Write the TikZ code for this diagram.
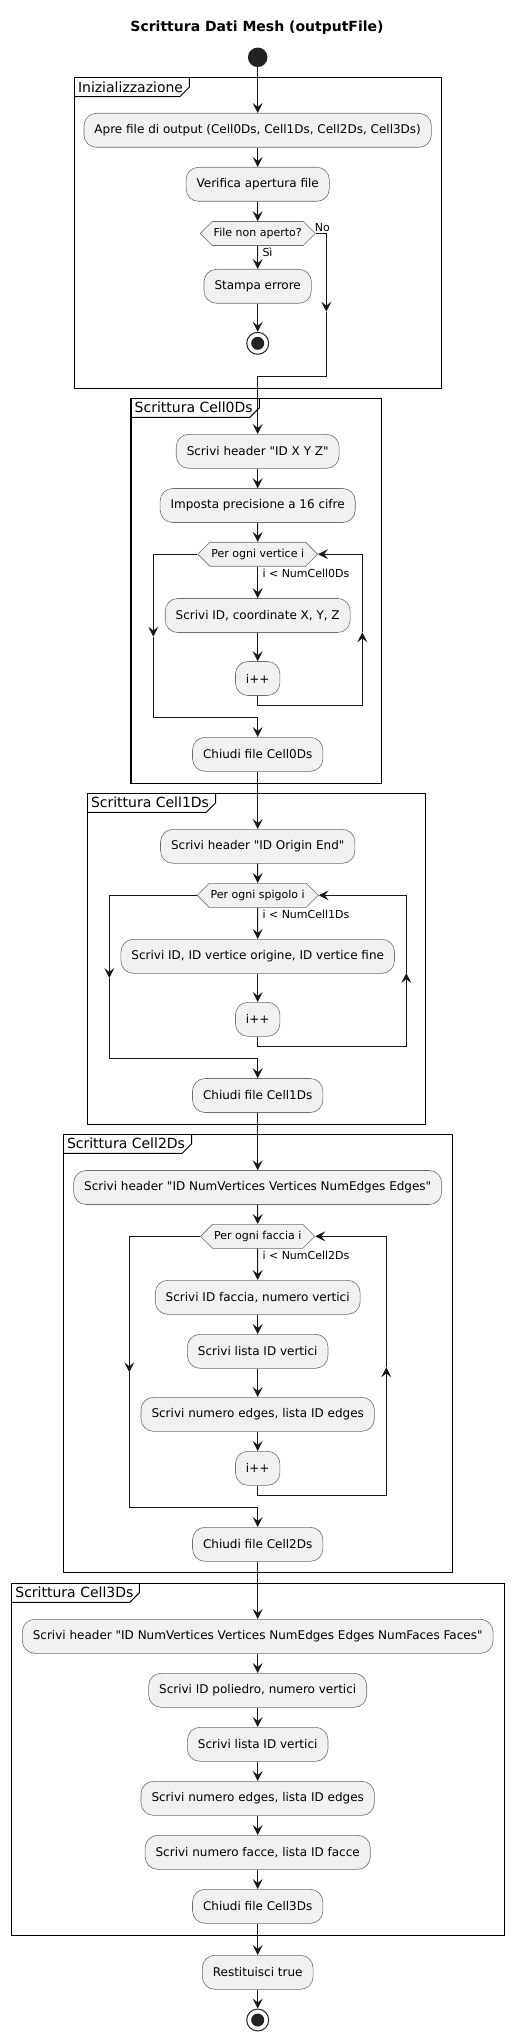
\documentclass[tikz,border=0pt]{standalone}
\usepackage{fontspec}
\setmainfont{DejaVu Sans}[Ligatures=TeXOff]
\usetikzlibrary{arrows.meta,shapes.symbols,calc}
\definecolor{boxfill}{HTML}{F1F1F1}
\definecolor{linec}{HTML}{181818}
\definecolor{dotc}{HTML}{222222}
\definecolor{borderc}{HTML}{6E6E6E}
\newcommand\umlframe[7]{%
  \draw[frame] (#1,#2) rectangle (#3,#4);
  \draw[line width=1pt] (#5,#2) -- (#5,#2+9.5) -- (#5-9.5,#2+19) -- (#1,#2+19);
  \node[anchor=west, inner sep=0pt, font=\fontsize{14}{16}\selectfont] (#7) at (#1+3.5,#2+9.4) {#6};
}
\begin{document}
\begin{tikzpicture}[x=1pt,y=-1pt,
  act/.style={draw=borderc, line width=0.6pt, fill=boxfill, rounded corners=12.5pt, minimum height=34pt, inner xsep=10.5pt, inner ysep=0pt, font=\fontsize{12}{14}\selectfont, text=black},
  dec/.style={signal, signal to=west and east, signal pointer angle=90, draw=borderc, line width=0.6pt, fill=boxfill, minimum height=24pt, inner xsep=1.5pt, inner ysep=0pt, font=\fontsize{11}{13}\selectfont},
  arr/.style={draw=linec, line width=1pt, -{Stealth[length=10pt,width=10pt,inset=4pt]}},
  ln/.style={draw=linec, line width=1pt},
  lbl/.style={font=\fontsize{11}{13}\selectfont, inner sep=0pt, anchor=west},
  frame/.style={draw=black, line width=1.5pt},
]
\useasboundingbox (0,0) rectangle (514,2041);

% title
\node[font=\fontsize{14}{16}\selectfont\bfseries] (title) at (257,28) {Scrittura Dati Mesh (outputFile)};

% frames
\umlframe{74.3}{77.7}{441.7}{388.3}{189.3}{Inizializzazione}{f1}
\umlframe{131}{398.3}{381.7}{783.3}{259.3}{Scrittura Cell0Ds}{f2}
\umlframe{87.3}{793.3}{425.7}{1124.3}{215.7}{Scrittura Cell1Ds}{f3}
\umlframe{63.3}{1134.3}{452.3}{1572.7}{191.7}{Scrittura Cell2Ds}{f4}
\umlframe{11.7}{1583.3}{504.3}{1935.3}{139.3}{Scrittura Cell3Ds}{f5}

% start
\node[circle, fill=dotc, minimum size=19.5pt, inner sep=0pt] (start) at (257.7,57.3) {};

% Inizializzazione
\node[act] (a1) at (257.7,130.3) {Apre file di output (Cell0Ds, Cell1Ds, Cell2Ds, Cell3Ds)};
\node[act] (a2) at (257.7,184.3) {Verifica apertura file};
\node[dec] (h1) at (257.7,233.5) {File non aperto?};
\node[act] (a3) at (257.7,286.3) {Stampa errore};
\node[circle, draw=dotc, line width=1pt, fill=white, minimum size=22pt, inner sep=0pt] (stop1) at (257.7,343.3) {};
\node[circle, fill=dotc, minimum size=13pt, inner sep=0pt] (stop1in) at (stop1) {};
\node[lbl] (lno) at (314.6,227.3) {No};
\node[lbl] (lsi) at (262.3,252.3) {Sì};
\coordinate (n1) at (326.3,233.5);
\coordinate (n2) at (326.3,311.7);
\coordinate (n3) at (326.3,376);

% Cell0Ds
\node[act] (b1) at (257.7,451.3) {Scrivi header "ID X Y Z"};
\node[act] (b2) at (257.7,505.5) {Imposta precisione a 16 cifre};
\node[dec] (h2) at (257.7,554.2) {Per ogni vertice i};
\node[lbl] (lc0) at (262.3,573.3) {i < NumCell0Ds};
\node[act] (b3) at (257.7,615.5) {Scrivi ID, coordinate X, Y, Z};
\node[act] (b4) at (257.7,678.5) {i++};
\node[act] (b5) at (257.7,754.3) {Chiudi file Cell0Ds};
\coordinate (r0a) at (257.7,705);
\coordinate (r0b) at (362.3,705);
\coordinate (r0c) at (362.3,632.3);
\coordinate (l0a) at (153.3,636.7);
\coordinate (l0b) at (153.3,717.3);

% Cell1Ds
\node[act] (c1) at (257.7,846.3) {Scrivi header "ID Origin End"};
\node[dec] (h3) at (257.7,895.3) {Per ogni spigolo i};
\node[lbl] (lc1) at (262.3,914) {i < NumCell1Ds};
\node[act] (c2) at (257.7,956.3) {Scrivi ID, ID vertice origine, ID vertice fine};
\node[act] (c3) at (257.7,1019.3) {i++};
\node[act] (c4) at (257.7,1095.5) {Chiudi file Cell1Ds};
\coordinate (r1a) at (257.7,1046.3);
\coordinate (r1b) at (406.3,1046.3);
\coordinate (r1c) at (406.3,973);
\coordinate (l1a) at (109.3,978);
\coordinate (l1b) at (109.3,1058.3);

% Cell2Ds
\node[act] (d1) at (257.7,1187.5) {Scrivi header "ID NumVertices Vertices NumEdges Edges"};
\node[dec] (h4) at (257.7,1236.3) {Per ogni faccia i};
\node[lbl] (lc2) at (262.3,1255) {i < NumCell2Ds};
\node[act] (d2) at (257.7,1297.3) {Scrivi ID faccia, numero vertici};
\node[act] (d3) at (257.7,1351.3) {Scrivi lista ID vertici};
\node[act] (d4) at (257.7,1414.3) {Scrivi numero edges, lista ID edges};
\node[act] (d5) at (257.7,1468.3) {i++};
\node[act] (d6) at (257.7,1544.3) {Chiudi file Cell2Ds};
\coordinate (r2a) at (257.7,1495);
\coordinate (r2b) at (386.3,1495);
\coordinate (r2c) at (386.3,1367.3);
\coordinate (l2a) at (129.3,1372.3);
\coordinate (l2b) at (129.3,1507.3);

% Cell3Ds
\node[act] (e1) at (257.7,1636.3) {Scrivi header "ID NumVertices Vertices NumEdges Edges NumFaces Faces"};
\node[act] (e2) at (257.7,1690.3) {Scrivi ID poliedro, numero vertici};
\node[act] (e3) at (257.7,1744.3) {Scrivi lista ID vertici};
\node[act] (e4) at (257.7,1798.3) {Scrivi numero edges, lista ID edges};
\node[act] (e5) at (257.7,1852.3) {Scrivi numero facce, lista ID facce};
\node[act] (e6) at (257.7,1906.3) {Chiudi file Cell3Ds};
\node[act] (rt) at (257.7,1972.3) {Restituisci true};
\node[circle, draw=dotc, line width=1pt, fill=white, minimum size=22pt, inner sep=0pt] (stop2) at (257.7,2020) {};
\node[circle, fill=dotc, minimum size=13pt, inner sep=0pt] (stop2in) at (stop2) {};

% connectors
\draw[arr] (start) -- (a1);
\draw[arr] (a1) -- (a2);
\draw[arr] (a2) -- (h1);
\draw[arr] (h1) -- (a3);
\draw[arr] (a3) -- (stop1);
\draw[arr] (h1.east) -- (n1) -- (n2);
\draw[arr] (n2) -- (n3) -| (b1);

\draw[arr] (b1) -- (b2);
\draw[arr] (b2) -- (h2);
\draw[arr] (h2) -- (b3);
\draw[arr] (b3) -- (b4);
\draw[arr] (b4) -- (r0a) -- (r0b) -- (r0c);
\draw[arr] (r0c) |- (h2.east);
\draw[arr] (h2.west) -| (l0a);
\draw[arr] (l0a) -- (l0b) -| (b5);
\draw[arr] (b5) -- (c1);

\draw[arr] (c1) -- (h3);
\draw[arr] (h3) -- (c2);
\draw[arr] (c2) -- (c3);
\draw[arr] (c3) -- (r1a) -- (r1b) -- (r1c);
\draw[arr] (r1c) |- (h3.east);
\draw[arr] (h3.west) -| (l1a);
\draw[arr] (l1a) -- (l1b) -| (c4);
\draw[arr] (c4) -- (d1);

\draw[arr] (d1) -- (h4);
\draw[arr] (h4) -- (d2);
\draw[arr] (d2) -- (d3);
\draw[arr] (d3) -- (d4);
\draw[arr] (d4) -- (d5);
\draw[arr] (d5) -- (r2a) -- (r2b) -- (r2c);
\draw[arr] (r2c) |- (h4.east);
\draw[arr] (h4.west) -| (l2a);
\draw[arr] (l2a) -- (l2b) -| (d6);
\draw[arr] (d6) -- (e1);

\draw[arr] (e1) -- (e2);
\draw[arr] (e2) -- (e3);
\draw[arr] (e3) -- (e4);
\draw[arr] (e4) -- (e5);
\draw[arr] (e5) -- (e6);
\draw[arr] (e6) -- (rt);
\draw[arr] (rt) -- (stop2);
\end{tikzpicture}
\end{document}
